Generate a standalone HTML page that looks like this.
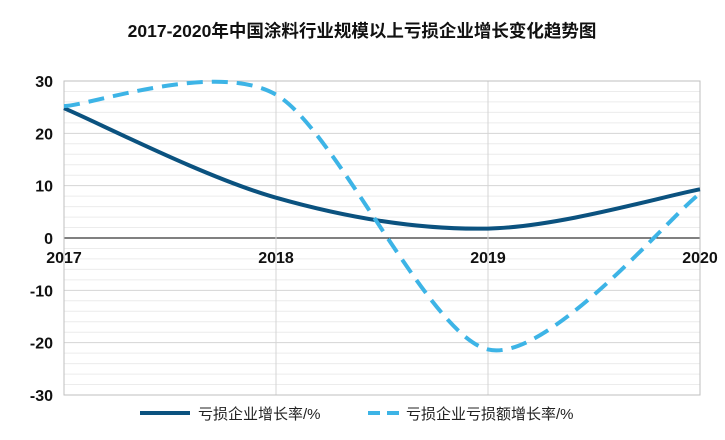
<!DOCTYPE html>
<html><head><meta charset="utf-8"><style>
body{margin:0;background:#fff;font-family:"Liberation Sans","Noto Sans CJK SC",sans-serif}
</style></head><body>
<svg width="725" height="435" xmlns="http://www.w3.org/2000/svg">
<text x="362" y="37" text-anchor="middle" font-size="17.5" font-weight="bold" font-family="Liberation Sans, Noto Sans CJK SC, sans-serif" fill="#111">2017-2020年中国涂料行业规模以上亏损企业增长变化趋势图</text>
<g id="grid"></g><g id="axes"></g><g id="series"></g>
<g>
<line x1="140" y1="413" x2="190" y2="413" stroke="#0b527f" stroke-width="4"/>
<text x="198" y="419" font-size="15" fill="#222">亏损企业增长率/%</text>
<line x1="368" y1="413" x2="400" y2="413" stroke="#3db4e6" stroke-width="4" stroke-dasharray="12,7"/>
<text x="406" y="419" font-size="15" fill="#222">亏损企业亏损额增长率/%</text>
</g>
</svg>
<script>
const categories=["2017","2018","2019","2020"];
const lossCompanyGrowth=[24.8,7.7,1.8,9.3];
const lossAmountGrowth=[25.2,27.4,-21.3,8.5];
const yTicks=[30,20,10,0,-10,-20,-30];
const L=64,R=700,T=81,B=395,yMin=-30,yMax=30;
const NS="http://www.w3.org/2000/svg";
const xs=i=>L+(R-L)*i/(categories.length-1);
const ys=v=>B-(v-yMin)/(yMax-yMin)*(B-T);
function mk(t,a,p){const e=document.createElementNS(NS,t);for(const k in a)e.setAttribute(k,a[k]);p.appendChild(e);return e;}
const grid=document.getElementById('grid'),axes=document.getElementById('axes'),ser=document.getElementById('series');
for(let v=yMin;v<=yMax;v+=2){if(v%10===0)continue;mk('line',{x1:L,x2:R,y1:ys(v),y2:ys(v),stroke:'#ececec','stroke-width':1},grid);}
yTicks.forEach(v=>{const g=mk('line',{x1:L,x2:R,y1:ys(v),y2:ys(v),stroke:v===0?'#000':'#d4d4d4','stroke-width':1},grid);


const t=mk('text',{x:53,y:ys(v)+6,'text-anchor':'end','font-size':16,'font-weight':'bold',fill:'#111'},axes);t.textContent=v;

});
categories.forEach((c,i)=>{mk('line',{x1:xs(i),x2:xs(i),y1:T,y2:B,stroke:'#d4d4d4'},grid);
const t=mk('text',{x:xs(i),y:ys(0)+25,'text-anchor':'middle','font-size':16,'font-weight':'bold',fill:'#111'},axes);t.textContent=c;

});
mk('rect',{x:L,y:T,width:R-L,height:B-T,fill:'none',stroke:'#bfbfbf'},grid);
function path(vals,k){const p=vals.map((v,i)=>[xs(i),ys(v)]);let d='M'+p[0];
for(let i=0;i<p.length-1;i++){const p0=p[i-1]||p[i],p1=p[i],p2=p[i+1],p3=p[i+2]||p[i+1];
const c1=[p1[0]+(p2[0]-p0[0])*k,p1[1]+(p2[1]-p0[1])*k],c2=[p2[0]-(p3[0]-p1[0])*k,p2[1]-(p3[1]-p1[1])*k];
d+=' C'+c1+' '+c2+' '+p2;}return d;}
const s1=mk('path',{d:path(lossCompanyGrowth,1/6),fill:'none',stroke:'#0b527f','stroke-width':4},ser);


const s2=mk('path',{d:path(lossAmountGrowth,0.14),fill:'none',stroke:'#3db4e6','stroke-width':4,'stroke-dasharray':'16,9'},ser);


</script>
</body></html>
